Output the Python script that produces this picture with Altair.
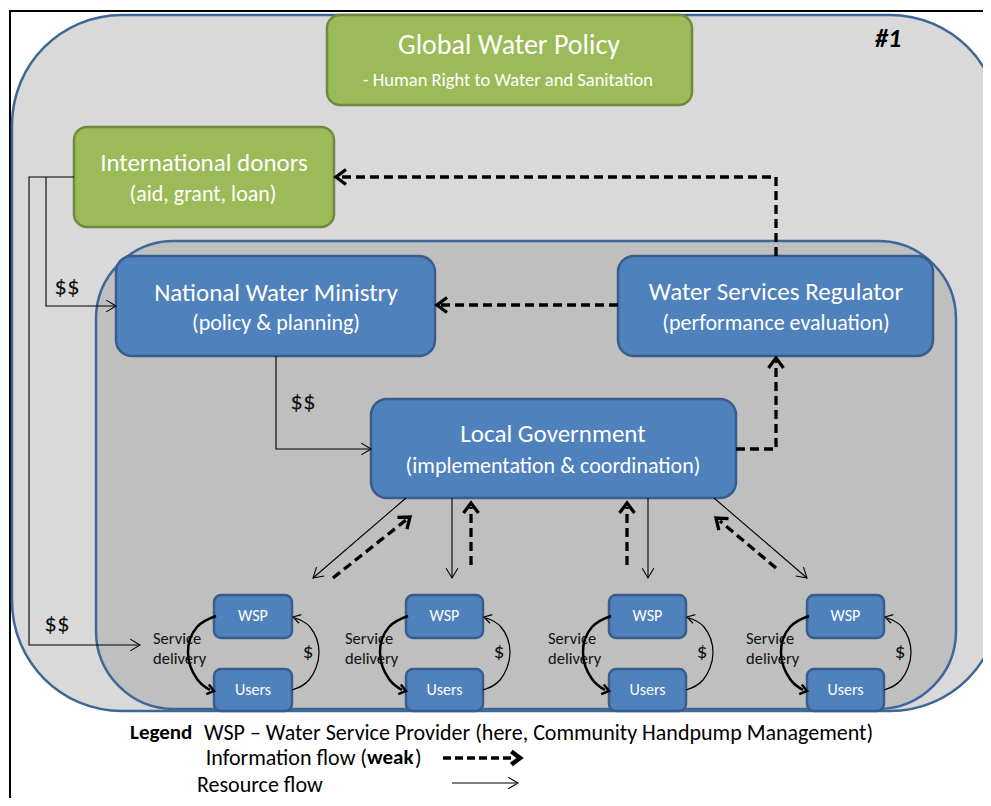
import altair as alt
import pandas as pd

# ---------------- canvas (data units = screen pixels) ----------------
W, H = 975, 790
X0, Y0 = 8, 8
FONT = "Carlito, Calibri, Lato, sans-serif"

xs = alt.Scale(domain=[X0, X0 + W], nice=False, zero=False)
ys = alt.Scale(domain=[Y0, Y0 + H], nice=False, zero=False, reverse=True)

# ---------------- data ----------------
# background panels
panel_x0 = [12, 96]
panel_x1 = [1000, 956]
panel_y0 = [15, 241]
panel_y1 = [711, 709]
panel_fill = ["#D9D9D9", "#BFBFBF"]
panel_radius = [110, 78]

# green boxes
green_names = ["Global Water Policy", "International donors"]
green_x0 = [327, 74]
green_x1 = [692, 334]
green_y0 = [15, 127]
green_y1 = [105, 227]

# big blue boxes
blue_names = ["National Water Ministry", "Water Services Regulator", "Local Government"]
blue_sub = ["(policy & planning)", "(performance evaluation)", "(implementation & coordination)"]
blue_x0 = [116, 618, 371]
blue_x1 = [435, 933, 736]
blue_y0 = [256, 256, 399]
blue_y1 = [356, 356, 498]

# small community groups (WSP / Users)
group_left = [214, 406, 609, 807]
group_right = [292, 483, 686, 884]
wsp_y = [595, 638]
users_y = [669, 711]

# resource flows (thin solid polylines)
res_paths = {
    "donor_wsp": [(74, 177), (29, 177), (29, 645), (138, 645)],
    "donor_nwm": [(46, 177), (46, 306), (114, 306)],
    "nwm_lg": [(276, 356), (276, 449), (369, 449)],
    "lg_g1": [(406, 498), (313, 578)],
    "lg_g2": [(452, 498), (452, 578)],
    "lg_g3": [(648, 498), (648, 578)],
    "lg_g4": [(714, 498), (807, 578)],
    "legend": [(452, 783), (516, 783)],
}
res_heads = [(140, 645, 0), (116, 306, 0), (371, 449, 0), (313, 578, 139),
             (452, 578, 90), (648, 578, 90), (807, 578, 41), (518, 783, 0)]

# information flows (thick dashed polylines)
info_paths = {
    "wsr_donor": [(776, 256), (776, 177), (339, 177)],
    "wsr_nwm": [(618, 305), (440, 305)],
    "lg_wsr": [(736, 449), (776, 449), (776, 361)],
    "g1_lg": [(333, 578), (406, 520)],
    "g2_lg": [(471, 565), (471, 507)],
    "g3_lg": [(627, 565), (627, 507)],
    "g4_lg": [(776, 568), (720, 521)],
}
info_heads = [(336, 177, 180), (437, 305, 180), (776, 358, 270), (410, 517, 321),
              (471, 503, 270), (627, 503, 270), (716, 518, 220)]
legend_info = [(443, 758), (512, 758)]
legend_info_head = [(520, 758, 0)]

# curved service-delivery / payment loops (offsets from group edges)
deliv_dx = [2, -17, -26, -17, -4]
deliv_y = [616, 627, 653, 679, 690]
pay_dx = [0, 17, 27, 18, 3]
pay_y = [690, 680, 653, 627, 618]

# texts
dollar2_x = [67, 303, 57]
dollar2_y = [287, 402, 624]

legend_line1 = "WSP \u2013 Water Service Provider (here, Community Handpump Management)"

# ---------------- helpers ----------------
def enc_xy():
    return dict(x=alt.X("x:Q", scale=xs, axis=None), y=alt.Y("y:Q", scale=ys, axis=None))


def rect_layer(df, r, sw, stroke):
    return alt.Chart(df).mark_rect(cornerRadius=r, strokeWidth=sw, stroke=stroke, clip=True).encode(
        x=alt.X("x0:Q", scale=xs, axis=None), x2="x1:Q",
        y=alt.Y("y0:Q", scale=ys, axis=None), y2="y1:Q",
        fill=alt.Fill("fill:N", scale=None),
    )


def text_layer(rows, size, color="white", align="center", weight="normal", style="normal"):
    df = pd.DataFrame(rows, columns=["label", "x", "y"])
    return alt.Chart(df).mark_text(font=FONT, fontSize=size, color=color, align=align,
                                   baseline="middle", fontWeight=weight, fontStyle=style).encode(
        text="label:N", **enc_xy())


def path_layer(paths, width, dash=None, interp="linear", cap="butt"):
    rows = []
    for pid, pts in paths.items():
        for k, (x, y) in enumerate(pts):
            rows.append({"id": pid, "k": k, "x": x, "y": y})
    df = pd.DataFrame(rows)
    kw = dict(strokeWidth=width, color="black", interpolate=interp, strokeCap=cap, clip=True)
    if dash:
        kw["strokeDash"] = dash
    return alt.Chart(df).mark_line(**kw).encode(
        detail="id:N", order=alt.Order("k:Q"), **enc_xy())


def head_layer(heads, shape, size, width):
    df = pd.DataFrame(heads, columns=["x", "y", "a"])
    return alt.Chart(df).mark_point(shape=shape, size=size, filled=False, strokeWidth=width,
                                    color="black", opacity=1, strokeJoin="miter").encode(
        angle=alt.Angle("a:Q", scale=None), **enc_xy())


THIN_CHEV = "M-1,-0.6 L0,0 L-1,0.6"
BOLD_CHEV = "M-1,-0.75 L0,0 L-1,0.75"

# ---------------- layers ----------------
layers = []

# outer black frame
layers.append(path_layer({"frame": [(10, 810), (10, 11), (995, 11)]}, 2, cap="square"))

# panels
for i in range(2):
    df = pd.DataFrame({"x0": [panel_x0[i]], "x1": [panel_x1[i]], "y0": [panel_y0[i]],
                       "y1": [panel_y1[i]], "fill": [panel_fill[i]]})
    layers.append(rect_layer(df, panel_radius[i], 2.5, "#3E6797"))

# green boxes
gdf = pd.DataFrame({"x0": green_x0, "x1": green_x1, "y0": green_y0, "y1": green_y1,
                    "fill": ["#9BBB59"] * 2})
layers.append(rect_layer(gdf, 13, 2.5, "#71893F"))

# blue boxes
bdf = pd.DataFrame({"x0": blue_x0, "x1": blue_x1, "y0": blue_y0, "y1": blue_y1,
                    "fill": ["#4F81BD"] * 3})
layers.append(rect_layer(bdf, 16, 2.5, "#385D8A"))

sdf = pd.DataFrame({
    "x0": group_left * 2, "x1": group_right * 2,
    "y0": [wsp_y[0]] * 4 + [users_y[0]] * 4, "y1": [wsp_y[1]] * 4 + [users_y[1]] * 4,
    "fill": ["#4F81BD"] * 8})
layers.append(rect_layer(sdf, 7, 2.5, "#385D8A"))

# box texts
layers.append(text_layer([("Global Water Policy", 509, 46)], 28))
layers.append(text_layer([("- Human Right to Water and Sanitation", 508, 80)], 18.5))
layers.append(text_layer([("International donors", 204, 163),
                          (blue_names[0], 276, 293), (blue_names[1], 776, 292),
                          (blue_names[2], 553, 434)], 25))
layers.append(text_layer([("(aid, grant, loan)", 203, 194), (blue_sub[0], 276, 323),
                          (blue_sub[1], 776, 323), (blue_sub[2], 553, 466)], 22))
mids = [(a + b) / 2 for a, b in zip(group_left, group_right)]
layers.append(text_layer([("WSP", m, 616) for m in mids] + [("Users", m, 690) for m in mids], 16))

# black annotation texts
layers.append(text_layer([("Service", L - 61, 639) for L in group_left] +
                         [("delivery", L - 61, 659) for L in group_left], 16.5, color="#111111", align="left"))
layers.append(text_layer([("$", R + 16, 652) for R in group_right], 21, color="#111111"))
layers.append(text_layer([("$$", x, y) for x, y in zip(dollar2_x, dollar2_y)], 25, color="#111111"))
layers.append(text_layer([("#1", 888, 39)], 26, color="black", weight="bold", style="italic"))

# legend texts
layers.append(text_layer([("Legend", 130, 733)], 21, color="black", align="left", weight="bold"))
layers.append(text_layer([(legend_line1, 204, 733), ("Resource flow", 197, 785)], 22,
                         color="black", align="left"))
layers.append(text_layer([("Information flow (", 367, 758)], 22, color="black", align="right"))
layers.append(text_layer([("weak", 367, 758)], 21, color="black", align="left", weight="bold"))
layers.append(text_layer([(")", 415, 758)], 22, color="black", align="left"))

# flows
layers.append(path_layer(res_paths, 1.1))
layers.append(head_layer(res_heads, THIN_CHEV, 380, 1.1))
layers.append(path_layer(info_paths, 3.3, dash=[9, 5]))
layers.append(head_layer(info_heads, BOLD_CHEV, 400, 3.3))
layers.append(path_layer({"leg": legend_info}, 3.5, dash=[8, 4]))
layers.append(head_layer(legend_info_head, BOLD_CHEV, 300, 4.5))

# curved loops
deliv = {f"d{i}": [(L + dx, y) for dx, y in zip(deliv_dx, deliv_y)] for i, L in enumerate(group_left)}
pay = {f"p{i}": [(R + dx, y) for dx, y in zip(pay_dx, pay_y)] for i, R in enumerate(group_right)}
layers.append(path_layer(deliv, 2.5, interp="natural"))
layers.append(head_layer([(L, 691, 15) for L in group_left], BOLD_CHEV, 180, 2.5))
layers.append(path_layer(pay, 1.2, interp="natural"))
layers.append(head_layer([(R + 1, 617, 195) for R in group_right], THIN_CHEV, 220, 1.2))

chart = alt.layer(*layers).properties(
    width=W, height=H, padding=0, autosize="none", background="white"
).configure_view(strokeWidth=0)

chart.save("out.html", embed_options={"renderer": "svg", "actions": False})
